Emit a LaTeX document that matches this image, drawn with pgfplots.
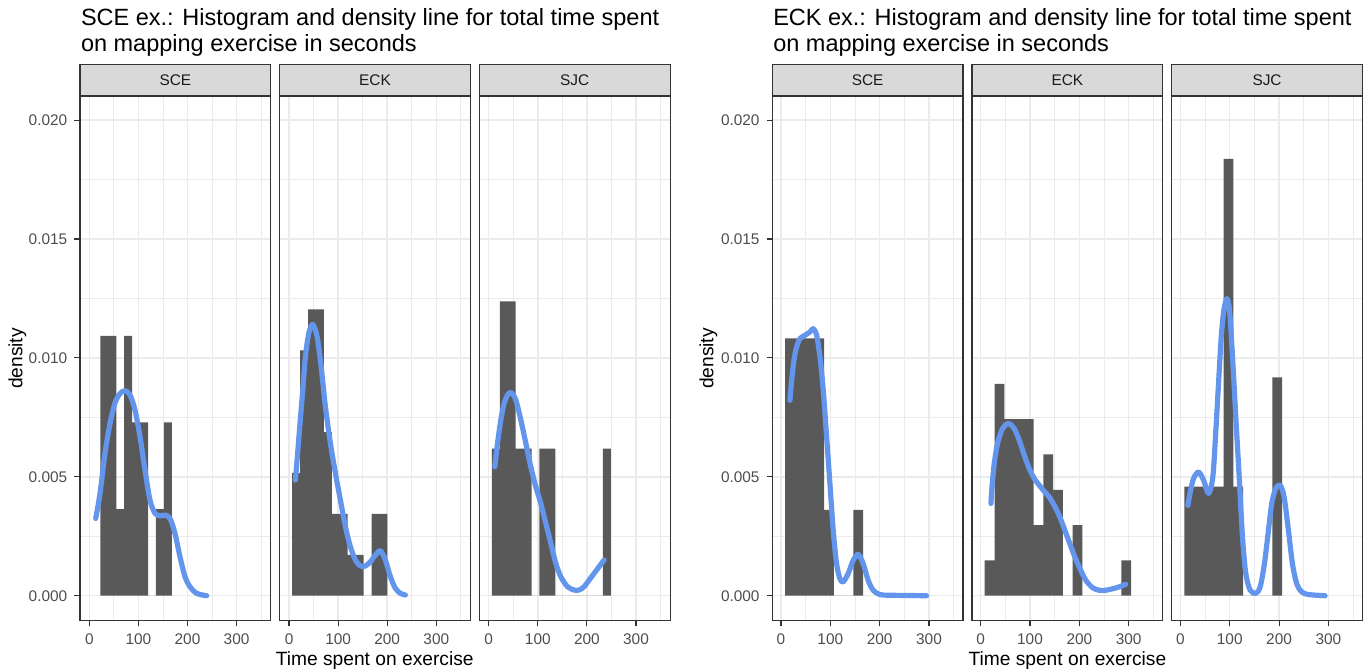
\documentclass[border=0pt]{standalone}
\usepackage{fontspec}
\setmainfont{Liberation Sans}
\usepackage{pgfplots}
\pgfplotsset{compat=1.18}

\definecolor{barfill}{HTML}{595959}
\definecolor{densblue}{HTML}{6495ED}
\definecolor{grey20}{HTML}{333333}
\definecolor{grey30}{HTML}{4D4D4D}
\definecolor{grey92}{HTML}{EBEBEB}
\definecolor{stripbg}{HTML}{D9D9D9}
\definecolor{grey10}{HTML}{1A1A1A}

\pgfplotsset{
  facet/.style={
    scale only axis, width=95.35pt, height=262.2pt, anchor=south west,
    ymin=-0.00105, ymax=0.021,
    xtick={0,100,200,300}, xticklabels={0,100,200,300},
    minor xtick={50,150,250,350},
    ytick={0,0.005,0.01,0.015,0.02},
    minor ytick={0.0025,0.0075,0.0125,0.0175},
    scaled y ticks=false,
    grid=both,
    major grid style={draw=grey92, line width=0.75pt},
    minor grid style={draw=grey92, line width=0.4pt},
    axis line style={draw=grey20, line width=0.55pt},
    tick align=outside, major tick length=2.85pt, minor tick length=0pt,
    tick style={draw=grey20, line width=0.55pt},
    xtick pos=bottom, ytick pos=left,
    tick label style={font=\fontsize{7.7}{9}\selectfont, text=grey30},
    every axis title/.style={at={(0.5,1)}, anchor=south, fill=stripbg,
      draw=grey20, line width=0.55pt, minimum width=95.35pt,
      minimum height=15.65pt, inner sep=0pt, text=grey10,
      font=\fontsize{7.7}{9}\selectfont},
  },
  grpL/.style={facet, xmin=-19, xmax=369.5},
  grpR/.style={facet, xmin=-17.6, xmax=369},
  ylab/.style={yticklabels={0.000,0.005,0.010,0.015,0.020}},
  noylab/.style={yticklabels={}, ytick style={draw=none}},
  hist/.style={const plot, fill=barfill, draw=none},
  dens/.style={draw=densblue, line width=2.6pt, line cap=round, line join=round, smooth, tension=0.5},
}
\tikzset{ttl/.style={anchor=base west, inner sep=0pt, font=\fontsize{11.75}{12}\selectfont}}

\begin{document}
\begin{tikzpicture}
\path[use as bounding box] (0,0) rectangle (685pt,336pt);

% ---------- SCE exercise ----------
\node[ttl] at (40.3pt,323pt) {SCE ex.: Histogram and density line for total time spent};
\node[ttl] at (40.3pt,310.3pt) {on mapping exercise in seconds};

\begin{axis}[grpL, ylab, at={(40pt,25.65pt)}, title={SCE}]
  \addplot[hist] coordinates {(22.65,0.010927)(38.8,0.010927)(54.95,0.003642)(71.1,0.010927)(87.25,0.007285)(103.4,0.007285)(119.55,0)(135.7,0.003642)(151.85,0.007285)(168,0.007285)} \closedcycle;
  \addplot[dens] coordinates {(13,0.00325)(21.8,0.0043)(32,0.006)(42.2,0.00725)(52.3,0.0081)(62.5,0.0085)(72.7,0.00862)(82.9,0.00844)(93.1,0.0078)(103.3,0.00668)(113.4,0.00528)(123.6,0.00402)(133.8,0.00346)(144,0.00336)(154.2,0.00339)(164.4,0.00325)(174.5,0.00262)(184.7,0.00164)(194.9,0.0008)(205,0.00038)(218.7,0.0001)(239,0.0)};
\end{axis}

\begin{axis}[grpL, noylab, at={(139.85pt,25.65pt)}, title={ECK}]
  \addplot[hist] coordinates {(6.5,0.00516)(22.65,0.01032)(38.8,0.01204)(54.95,0.01204)(71.1,0.00688)(87.25,0.00344)(103.4,0.00344)(119.55,0.00172)(135.7,0.00172)(151.85,0)(168,0.00344)(184.15,0.00344)(200.3,0.00344)} \closedcycle;
  \addplot[dens] coordinates {(13,0.00486)(16.4,0.0057)(21.8,0.0071)(28,0.00865)(33.4,0.01005)(40.2,0.01103)(48.3,0.01141)(57.2,0.01089)(65.4,0.00963)(74.1,0.00795)(84.3,0.00641)(94.5,0.00515)(104.7,0.00402)(114.9,0.0029)(125,0.00206)(135.2,0.0015)(145.4,0.00125)(155.6,0.00125)(165.8,0.00143)(176,0.00171)(186.1,0.00189)(196.3,0.0015)(206.5,0.0008)(216.7,0.00031)(226.9,0.0001)(237,0.00003)};
\end{axis}

\begin{axis}[grpL, noylab, at={(239.7pt,25.65pt)}, title={SJC}]
  \addplot[hist] coordinates {(6.5,0.00619)(22.65,0.01238)(38.8,0.01238)(54.95,0.00619)(71.1,0.00619)(87.25,0)(103.4,0.00619)(119.55,0.00619)(135.7,0)(232.6,0.00619)(248.75,0.00619)} \closedcycle;
  \addplot[dens] coordinates {(12.4,0.00542)(17.9,0.00641)(24.6,0.00739)(31.4,0.00809)(39.5,0.00848)(46.4,0.00853)(55.2,0.00823)(65.4,0.00739)(75.6,0.00641)(85.7,0.00542)(95.9,0.00458)(106.1,0.00388)(116.3,0.00304)(126.5,0.0022)(136.7,0.00136)(146.8,0.0008)(160.5,0.00038)(173.9,0.00024)(184.1,0.00024)(194.3,0.00038)(204.5,0.00066)(214.7,0.00094)(224.8,0.00122)(235,0.0015)};
\end{axis}

\node[rotate=90, font=\fontsize{9.6}{11}\selectfont] at (8.75pt,156.75pt) {density};
\node[anchor=base, font=\fontsize{9.6}{11}\selectfont] at (187.35pt,3.2pt) {Time spent on exercise};

% ---------- ECK exercise ----------
\node[ttl] at (386.45pt,323pt) {ECK ex.: Histogram and density line for total time spent};
\node[ttl] at (386.45pt,310.3pt) {on mapping exercise in seconds};

\begin{axis}[grpR, ylab, at={(386.15pt,25.65pt)}, title={SCE}]
  \addplot[hist] coordinates {(8.2,0.010823)(28,0.010823)(47.8,0.010823)(67.6,0.010823)(87.4,0.003608)(107.2,0)(146.8,0.003608)(166.6,0.003608)} \closedcycle;
  \addplot[dens] coordinates {(18.2,0.00822)(21.7,0.00906)(26.3,0.0099)(31.7,0.01046)(38.5,0.01081)(48.6,0.01095)(58.7,0.01109)(65.4,0.01123)(72.3,0.01095)(79,0.01004)(85.7,0.00864)(92.5,0.00668)(99.2,0.00472)(105.9,0.00275)(112.7,0.00135)(119.4,0.00072)(126.1,0.00058)(136.2,0.00093)(146.4,0.00149)(156.5,0.00174)(166.6,0.00135)(176.7,0.00065)(186.8,0.00023)(200.4,0.00005)(220.6,0.00002)(295,0)};
\end{axis}

\begin{axis}[grpR, noylab, at={(486pt,25.65pt)}, title={ECK}]
  \addplot[hist] coordinates {(8.2,0.001485)(28,0.00891)(47.8,0.007425)(67.6,0.007425)(87.4,0.007425)(107.2,0.00297)(127,0.00594)(146.8,0.004455)(166.6,0)(186.4,0.00297)(206.2,0)(285.4,0.001485)(305.2,0.001485)} \closedcycle;
  \addplot[dens] coordinates {(20.8,0.00388)(22.9,0.00457)(27.5,0.00556)(34.2,0.0064)(44.3,0.00703)(56.5,0.00724)(68,0.00703)(78.1,0.00654)(88.3,0.00591)(98.4,0.00535)(108.5,0.00493)(118.6,0.00465)(128.7,0.00439)(138.9,0.00415)(149,0.0038)(159.1,0.00338)(169.2,0.00283)(179.4,0.00226)(189.5,0.0017)(199.6,0.00121)(213.2,0.00065)(226.7,0.00034)(240.1,0.00023)(253.6,0.00023)(267,0.00029)(280.6,0.00037)(294,0.00048)};
\end{axis}

\begin{axis}[grpR, noylab, at={(585.85pt,25.65pt)}, title={SJC}]
  \addplot[hist] coordinates {(8.2,0.004591)(28,0.004591)(47.8,0.004591)(67.6,0.004591)(87.4,0.018365)(107.2,0.004591)(127,0)(186.4,0.009183)(206.2,0.009183)} \closedcycle;
  \addplot[dens] coordinates {(15.2,0.0038)(20,0.00436)(26.7,0.00493)(36.8,0.0052)(47,0.00486)(57.1,0.0043)(65.8,0.005)(71.9,0.00696)(77.3,0.00892)(82.8,0.01088)(88.1,0.012)(94.1,0.01249)(99.6,0.012)(105.7,0.01004)(112.3,0.00752)(119.2,0.005)(125.9,0.00247)(132.6,0.00093)(141.5,0.00023)(152.8,0.0001)(161.7,0.00037)(170.4,0.00135)(178.5,0.00275)(185.2,0.00388)(193.3,0.00451)(202.2,0.00465)(210.3,0.00415)(219,0.00275)(227.1,0.00135)(235.8,0.00051)(246,0.00016)(259.5,0.00005)(293.3,0)};
\end{axis}

\node[rotate=90, font=\fontsize{9.6}{11}\selectfont] at (354.15pt,156.75pt) {density};
\node[anchor=base, font=\fontsize{9.6}{11}\selectfont] at (533.7pt,3.2pt) {Time spent on exercise};
\end{tikzpicture}
\end{document}
